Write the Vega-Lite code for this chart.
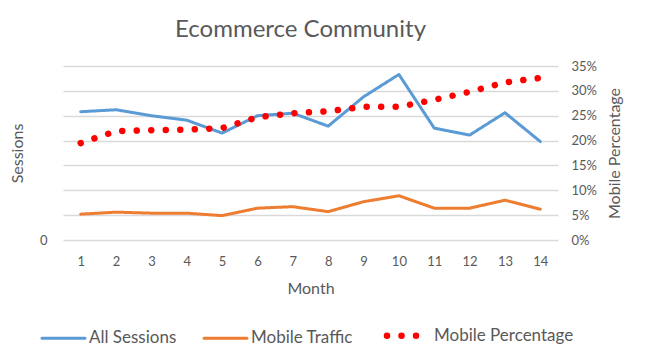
{
  "$schema": "https://vega.github.io/schema/vega-lite/v6.json",
  "width": 495,
  "height": 174,
  "autosize": {"type": "none"},
  "padding": {"left": 63, "top": 66, "right": 92, "bottom": 121},
  "background": "white",
  "config": {
    "font": "Lato",
    "view": {"stroke": null},
    "axis": {"labelColor": "#595959", "titleColor": "#595959", "labelFont": "Lato", "titleFont": "Lato", "titleFontWeight": "normal", "domain": false, "ticks": false}
  },
  "title": {"text": "Ecommerce Community", "fontSize": 24, "fontWeight": "normal", "color": "#595959", "font": "Lato", "anchor": "middle", "offset": 18, "dx": -10},
  "data": {"values": [
    {"month": 1, "series": "All Sessions", "value": 25.8},
    {"month": 2, "series": "All Sessions", "value": 26.2},
    {"month": 3, "series": "All Sessions", "value": 25.0},
    {"month": 4, "series": "All Sessions", "value": 24.1},
    {"month": 5, "series": "All Sessions", "value": 21.5},
    {"month": 6, "series": "All Sessions", "value": 25.0},
    {"month": 7, "series": "All Sessions", "value": 25.5},
    {"month": 8, "series": "All Sessions", "value": 22.9},
    {"month": 9, "series": "All Sessions", "value": 28.8},
    {"month": 10, "series": "All Sessions", "value": 33.3},
    {"month": 11, "series": "All Sessions", "value": 22.5},
    {"month": 12, "series": "All Sessions", "value": 21.1},
    {"month": 13, "series": "All Sessions", "value": 25.6},
    {"month": 14, "series": "All Sessions", "value": 19.8},
    {"month": 1, "series": "Mobile Traffic", "value": 5.2},
    {"month": 2, "series": "Mobile Traffic", "value": 5.6},
    {"month": 3, "series": "Mobile Traffic", "value": 5.4},
    {"month": 4, "series": "Mobile Traffic", "value": 5.4},
    {"month": 5, "series": "Mobile Traffic", "value": 4.9},
    {"month": 6, "series": "Mobile Traffic", "value": 6.4},
    {"month": 7, "series": "Mobile Traffic", "value": 6.7},
    {"month": 8, "series": "Mobile Traffic", "value": 5.7},
    {"month": 9, "series": "Mobile Traffic", "value": 7.7},
    {"month": 10, "series": "Mobile Traffic", "value": 8.9},
    {"month": 11, "series": "Mobile Traffic", "value": 6.4},
    {"month": 12, "series": "Mobile Traffic", "value": 6.4},
    {"month": 13, "series": "Mobile Traffic", "value": 8.0},
    {"month": 14, "series": "Mobile Traffic", "value": 6.2},
    {"month": 1, "series": "Mobile Percentage", "value": 0.195},
    {"month": 2, "series": "Mobile Percentage", "value": 0.219},
    {"month": 3, "series": "Mobile Percentage", "value": 0.221},
    {"month": 4, "series": "Mobile Percentage", "value": 0.222},
    {"month": 5, "series": "Mobile Percentage", "value": 0.225},
    {"month": 6, "series": "Mobile Percentage", "value": 0.247},
    {"month": 7, "series": "Mobile Percentage", "value": 0.255},
    {"month": 8, "series": "Mobile Percentage", "value": 0.259},
    {"month": 9, "series": "Mobile Percentage", "value": 0.268},
    {"month": 10, "series": "Mobile Percentage", "value": 0.268},
    {"month": 11, "series": "Mobile Percentage", "value": 0.282},
    {"month": 12, "series": "Mobile Percentage", "value": 0.298},
    {"month": 13, "series": "Mobile Percentage", "value": 0.317},
    {"month": 14, "series": "Mobile Percentage", "value": 0.326}
  ]},
  "encoding": {
    "x": {
      "field": "month", "type": "ordinal",
      "scale": {"type": "point", "padding": 0.5},
      "axis": {"title": "Month", "labelAngle": 0, "labelFontSize": 13, "labelPadding": 15, "titleFontSize": 16, "titlePadding": 12}
    },
    "color": {
      "field": "series", "type": "nominal",
      "scale": {"domain": ["All Sessions", "Mobile Traffic", "Mobile Percentage"], "range": ["#5b9bd5", "#ed7d31", "#ff0000"]},
      "legend": {
        "title": null, "orient": "none", "legendX": -8, "legendY": 261, "direction": "horizontal", "columns": 3,
        "symbolType": "stroke", "symbolSize": 1849, "symbolStrokeWidth": 3, "labelFontSize": 17, "labelColor": "#595959", "labelFont": "Lato",
        "labelOffset": 17, "columnPadding": 21, "padding": 0,
        "encode": {"symbols": {"update": {
          "size": {"value": 1849},
          "strokeWidth": {"signal": "datum && datum.value === 'Mobile Percentage' ? 6.5 : 3"},
          "strokeDash": {"signal": "datum && datum.value === 'Mobile Percentage' ? [0.01, 14.5] : [1, 0]"},
          "strokeCap": {"value": "round"}
        }}}
      }
    },
    "strokeDash": {
      "field": "series", "type": "nominal",
      "scale": {"domain": ["All Sessions", "Mobile Traffic", "Mobile Percentage"], "range": [[1, 0], [1, 0], [0.01, 14.5]]},
      "legend": null
    }
  },
  "layer": [
    {
      "transform": [{"filter": "datum.series !== 'Mobile Percentage'"}],
      "mark": {"type": "line", "strokeWidth": 3, "strokeCap": "round", "strokeJoin": "round"},
      "encoding": {
        "y": {
          "field": "value", "type": "quantitative",
          "scale": {"domain": [0, 35]},
          "axis": {"title": "Sessions", "values": [0, 5, 10, 15, 20, 25, 30, 35], "labelExpr": "datum.value === 0 ? '0' : ''",
            "grid": true, "gridColor": "#d9d9d9", "gridWidth": 1.5, "labelFontSize": 13, "labelPadding": 16, "titleFontSize": 16, "titlePadding": 14}
        }
      }
    },
    {
      "transform": [{"filter": "datum.series === 'Mobile Percentage'"}],
      "mark": {"type": "line", "strokeWidth": 6.5, "strokeCap": "round"},
      "encoding": {
        "y": {
          "field": "value", "type": "quantitative",
          "scale": {"domain": [0, 0.35]},
          "axis": {"orient": "right", "title": "Mobile Percentage", "titleAngle": 270, "titleBaseline": "top", "format": ".0%", "values": [0, 0.05, 0.1, 0.15, 0.2, 0.25, 0.3, 0.35],
            "grid": false, "labelFontSize": 13, "labelPadding": 13, "titleFontSize": 16, "titlePadding": 10}
        }
      }
    }
  ],
  "resolve": {"scale": {"y": "independent"}}
}
